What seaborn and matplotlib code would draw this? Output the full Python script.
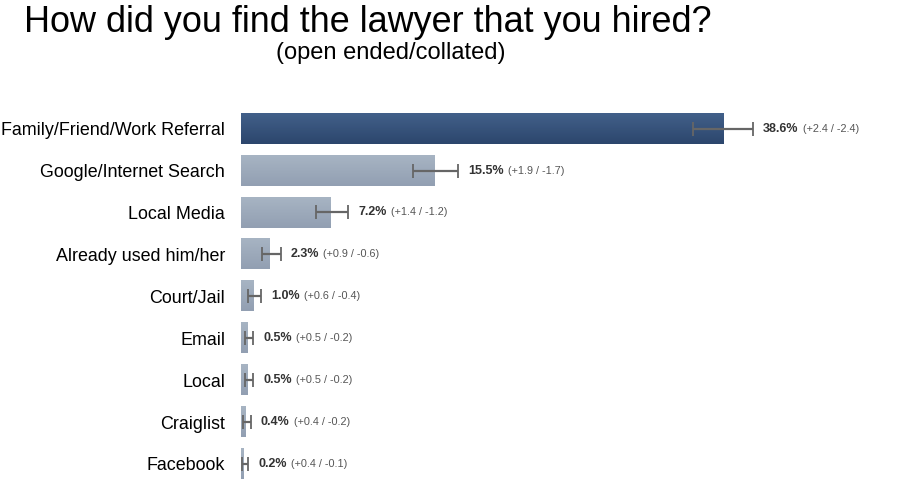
import numpy as np
import pandas as pd
import matplotlib
matplotlib.use('Agg')
import matplotlib.pyplot as plt
from matplotlib.colors import LinearSegmentedColormap
import seaborn as sns

# dados
categorias = ['Family/Friend/Work Referral', 'Google/Internet Search', 'Local Media',
              'Already used him/her', 'Court/Jail', 'Email', 'Local', 'Craiglist', 'Facebook']
valores = [38.6, 15.5, 7.2, 2.3, 1.0, 0.5, 0.5, 0.4, 0.2]
erro_mais = [2.4, 1.9, 1.4, 0.9, 0.6, 0.5, 0.5, 0.4, 0.4]
erro_menos = [2.4, 1.7, 1.2, 0.6, 0.4, 0.2, 0.2, 0.2, 0.1]

df = pd.DataFrame({'cat': categorias, 'val': valores})
cores = ['#37537b'] + ['#9daabb'] * (len(categorias) - 1)

sns.set_style('white')
plt.rcParams['font.family'] = ['Liberation Sans', 'DejaVu Sans']

fig = plt.figure(figsize=(8.98, 4.93), dpi=100)
ax = fig.add_axes([241 / 898, 0.0165, 1 - 241 / 898, 0.765])

sns.barplot(data=df, x='val', y='cat', hue='cat', palette=cores, legend=False,
            width=0.72, ax=ax, saturation=1, edgecolor='none')

ax.set_xlim(0, (898 - 241) / 12.49)
ax.set_ylim(len(categorias) - 0.5, -0.5)

# gradiente vertical em cada barra
grad_escuro = LinearSegmentedColormap.from_list('escuro', ['#42608a', '#2c466c'])
grad_claro = LinearSegmentedColormap.from_list('claro', ['#a7b4c3', '#929fb2'])
gradiente = np.linspace(0, 1, 64).reshape(-1, 1)
for i, barra in enumerate(ax.patches):
    x0, y0 = barra.get_x(), barra.get_y()
    w, h = barra.get_width(), barra.get_height()
    cmap = grad_escuro if i == 0 else grad_claro
    ax.imshow(gradiente, cmap=cmap, aspect='auto', origin='upper',
              extent=(x0, x0 + w, y0 + h, y0), zorder=barra.get_zorder() + 0.1)
ax.set_xlim(0, (898 - 241) / 12.49)
ax.set_ylim(len(categorias) - 0.5, -0.5)

ax.errorbar(valores, np.arange(len(valores)), xerr=[erro_menos, erro_mais],
            fmt='none', ecolor='#666666', elinewidth=1.6, capsize=5, capthick=1.3,
            zorder=5)

ax.set_xlabel('')
ax.set_ylabel('')
ax.set_xticks([])
ax.tick_params(axis='y', length=0, pad=11.5, labelsize=12.9, labelcolor='black')
for s in ax.spines.values():
    s.set_visible(False)

fig.canvas.draw()
renderer = fig.canvas.get_renderer()
for i, (v, ep, em) in enumerate(zip(valores, erro_mais, erro_menos)):
    t = ax.text(v + ep + 0.8, i, f'{v:.1f}%', fontsize=9, fontweight='bold',
                color='#333333', va='center', ha='left')
    bb = t.get_window_extent(renderer)
    x2 = ax.transData.inverted().transform((bb.x1 + 4, 0))[0]
    ax.text(x2, i, f'(+{ep:.1f} / -{em:.1f})', fontsize=7.8, color='#555555',
            va='center', ha='left')

fig.text(0.027, 0.955, 'How did you find the lawyer that you hired?', fontsize=25.9,
         ha='left', va='center', color='black')
fig.text(0.435, 0.893, '(open ended/collated)', fontsize=17, ha='center',
         va='center', color='black')

fig.savefig('out.png', dpi=100)
